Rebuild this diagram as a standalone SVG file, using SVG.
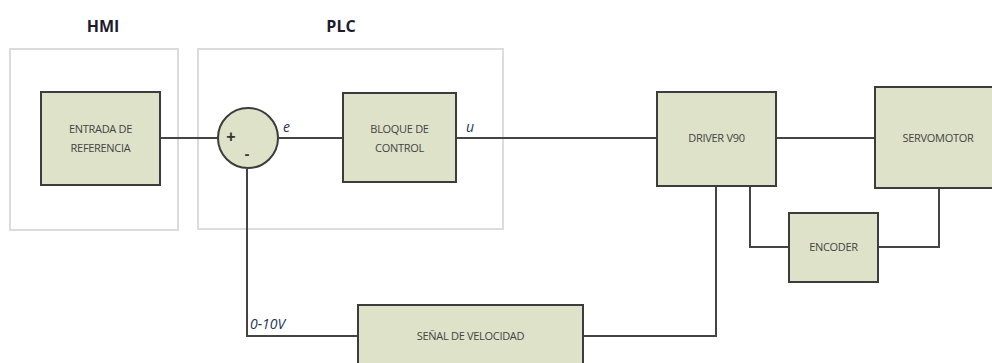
<svg xmlns="http://www.w3.org/2000/svg" width="992" height="363" viewBox="0 0 992 363">
<style>
.grp{fill:#fff;stroke:#dcdcdc;stroke-width:2}
.blk{fill:#dde2c9;stroke:#3c3c3c;stroke-width:2}
.lbl{font-family:"Open Sans","Liberation Sans",sans-serif;font-size:11px;fill:#444;text-anchor:middle;letter-spacing:-0.3px}
.ttl{font-family:"Open Sans","Liberation Sans",sans-serif;font-size:16px;font-weight:bold;fill:#1c1c2c;text-anchor:middle}
.var{font-family:"Open Sans","Liberation Sans",sans-serif;font-size:14px;font-style:italic;fill:#25355a}
.wire{fill:none;stroke:#444;stroke-width:2}
</style>
<rect width="992" height="363" fill="#fff"/>
<g id="hmi">
<rect class="grp" x="10" y="49" width="168" height="181"/>
<text class="ttl" x="103" y="32">HMI</text>
</g>
<g id="plc">
<rect class="grp" x="198" y="49" width="305" height="180"/>
<text class="ttl" x="341" y="32">PLC</text>
</g>
<g id="connectors">
<path class="wire" d="M160 138H218"/>
<path class="wire" d="M278 138H343"/>
<path class="wire" d="M456 138H657"/>
<path class="wire" d="M776 138H875"/>
<path class="wire" d="M750 186V247H789"/>
<path class="wire" d="M878 247H939V188"/>
<path class="wire" d="M716 186V336H583"/>
<path class="wire" d="M247 169V336H358"/>
</g>
<g id="entrada">
<rect class="blk" x="41" y="92" width="119" height="93"/>
<text class="lbl" x="100.5" y="133">ENTRADA DE</text>
<text class="lbl" x="100.5" y="152">REFERENCIA</text>
</g>
<g id="sumador">
<circle class="blk" cx="248" cy="138" r="30"/>
<text x="231" y="142" font-family="Liberation Sans,sans-serif" font-size="16" font-weight="bold" fill="#333" text-anchor="middle">+</text>
<text x="247" y="159" font-family="Liberation Sans,sans-serif" font-size="15" font-weight="bold" fill="#333" text-anchor="middle">-</text>
</g>
<text class="var" x="283" y="132">e</text>
<g id="bloque">
<rect class="blk" x="343" y="93" width="113" height="89"/>
<text class="lbl" x="399.5" y="133">BLOQUE DE</text>
<text class="lbl" x="399.5" y="152">CONTROL</text>
</g>
<text class="var" x="466" y="132">u</text>
<g id="driver">
<rect class="blk" x="657" y="92" width="119" height="94"/>
<text class="lbl" x="716.5" y="142">DRIVER V90</text>
</g>
<g id="servomotor">
<rect class="blk" x="875" y="87" width="125" height="101"/>
<text class="lbl" x="938" y="142">SERVOMOTOR</text>
</g>
<g id="encoder">
<rect class="blk" x="789" y="213" width="89" height="69"/>
<text class="lbl" x="833.5" y="251">ENCODER</text>
</g>
<g id="senal">
<rect class="blk" x="358" y="305" width="225" height="70"/>
<text class="lbl" x="470.5" y="340">SEÑAL DE VELOCIDAD</text>
</g>
<text class="var" x="250" y="329">0-10V</text>
</svg>
